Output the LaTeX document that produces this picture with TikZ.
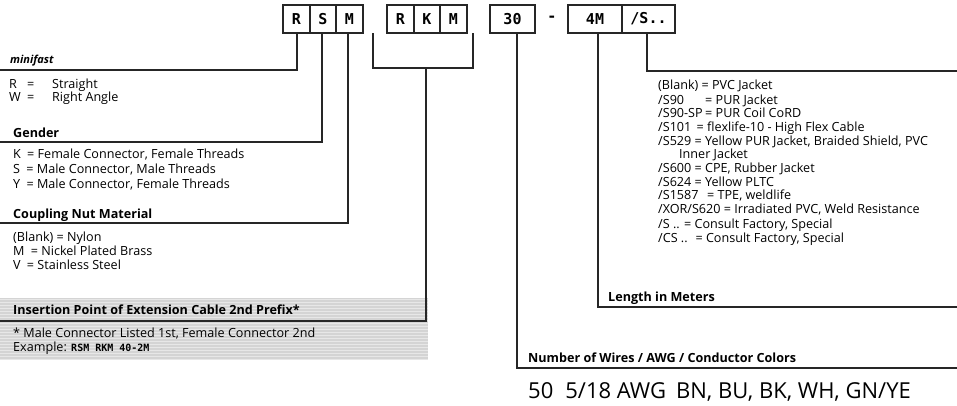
\documentclass[tikz,border=0pt]{standalone}
\usepackage{fontspec}
\setmainfont{Open Sans}
\newfontfamily\boxfont{DejaVu Sans Mono}
\begin{document}
\begin{tikzpicture}[x=1pt,y=-1pt,
 code/.style={draw=black!85, line width=1.6pt, minimum height=28pt, inner sep=0pt,
   font=\boxfont\bfseries\fontsize{15}{15}\selectfont},
 lead/.style={draw=black!85, line width=2.4pt},
 txt/.style={anchor=base west, inner sep=0pt, font=\fontsize{12.6}{14}\selectfont},
 ttl/.style={anchor=base west, inner sep=0pt, font=\bfseries\fontsize{12.6}{14}\selectfont},
]
\useasboundingbox (0,0) rectangle (957,405);
% shaded band
\fill[black!17] (0,298) rectangle (428,360);
\foreach \yy in {299,302,...,359} \draw[white,opacity=0.45,line width=0.9pt] (0,\yy) -- (428,\yy);

% code boxes
\node[code,minimum width=26.5pt] (r1) at (296.5,19) {R};
\node[code,minimum width=26.5pt] (s1) at (323,19) {S};
\node[code,minimum width=26.5pt] (m1) at (349.5,19) {M};
\node[code,minimum width=26.5pt] (r2) at (400.5,19) {R};
\node[code,minimum width=26.5pt] (k2) at (427,19) {K};
\node[code,minimum width=26.5pt] (m2) at (453.5,19) {M};
\node[code,minimum width=45pt] (b30) at (512.5,19) {30};
\node[inner sep=0pt,font=\boxfont\bfseries\fontsize{15}{15}\selectfont] (dash) at (552,19) {-};
\node[code,minimum width=54pt] (b4m) at (595,19) {4M};
\node[code,minimum width=53pt] (bs) at (648.5,19) {/S..};

% connector ends
\coordinate (e1) at (0,70);
\coordinate (e2) at (0,142);
\coordinate (e3) at (0,223);
\coordinate (bl) at (373,33);
\coordinate (bm) at (426,68);
\coordinate (br) at (473,33);
\coordinate (e4) at (0,321);
\coordinate (e5) at (957,368);
\coordinate (e6) at (957,307);
\coordinate (e7) at (957,71);

\draw[lead] ([xshift=0.5pt]r1.south) |- (e1);
\draw[lead] ([xshift=-1pt]s1.south) |- (e2);
\draw[lead] ([xshift=-1.5pt]m1.south) |- (e3);
\draw[lead] (bl) |- (br |- bm) -- (br);
\draw[lead] (bm) |- (e4);
\draw[lead] ([xshift=4.5pt]b30.south) |- (e5);
\draw[lead] ([xshift=3pt]b4m.south) |- (e6);
\draw[lead] ([xshift=-1.5pt]bs.south) |- (e7);

% left texts
\node[ttl,font=\bfseries\itshape\fontsize{11}{12}\selectfont] (t1) at (10,63) {minifast};
\node[txt] (t2) at (9,88) {\makebox[18pt][l]{R}\makebox[25pt][l]{=}Straight};
\node[txt] (t3) at (9,101) {\makebox[18pt][l]{W}\makebox[25pt][l]{=}Right Angle};
\node[ttl] (t4) at (13,137) {Gender};
\node[txt] (t5) at (13,158) {K\enspace = Female Connector, Female Threads};
\node[txt] (t6) at (13,173) {S\enspace = Male Connector, Male Threads};
\node[txt] (t7) at (13,188) {Y\enspace = Male Connector, Female Threads};
\node[ttl] (t8) at (13,218) {Coupling Nut Material};
\node[txt] (t9) at (13,241) {(Blank) = Nylon};
\node[txt] (t10) at (13,255) {M\enspace = Nickel Plated Brass};
\node[txt] (t11) at (13,269) {V\enspace = Stainless Steel};
\node[ttl] (t12) at (13,314) {Insertion Point of Extension Cable 2nd Prefix*};
\node[txt] (t13) at (13,337) {* Male Connector Listed 1st, Female Connector 2nd};
\node[txt] (t14) at (13,351) {Example: {\boxfont\bfseries\fontsize{10}{10}\selectfont RSM RKM 40-2M}};

% right list
\node[txt] (u1) at (658,89) {(Blank) = PVC Jacket};
\node[txt] (u2) at (658,104) {\makebox[47pt][l]{/S90}= PUR Jacket};
\node[txt] (u3) at (658,117) {\makebox[47pt][l]{/S90-SP}= PUR Coil CoRD};
\node[txt] (u4) at (658,131) {/S101 \,= flexlife-10 - High Flex Cable};
\node[txt] (u5) at (658,145) {/S529 = Yellow PUR Jacket, Braided Shield, PVC};
\node[txt] (u6) at (679,158) {Inner Jacket};
\node[txt] (u7) at (658,172) {/S600 = CPE, Rubber Jacket};
\node[txt] (u8) at (658,186) {/S624 = Yellow PLTC};
\node[txt] (u9) at (658,199) {/S1587 \, = TPE, weldlife};
\node[txt] (u10) at (658,213) {/XOR/S620 = Irradiated PVC, Weld Resistance};
\node[txt] (u11) at (658,228) {/S .. = Consult Factory, Special};
\node[txt] (u12) at (658,242) {/CS .. \;= Consult Factory, Special};

\node[ttl] (l1) at (608,301) {Length in Meters};
\node[ttl] (l2) at (528,362) {Number of Wires / AWG / Conductor Colors};
\node[anchor=base west, inner sep=0pt, font=\fontsize{22}{22}\selectfont] (bot) at (528,398)
  {50\hspace{12pt}5/18 AWG\hspace{10pt}BN, BU, BK, WH, GN/YE};
\end{tikzpicture}
\end{document}
